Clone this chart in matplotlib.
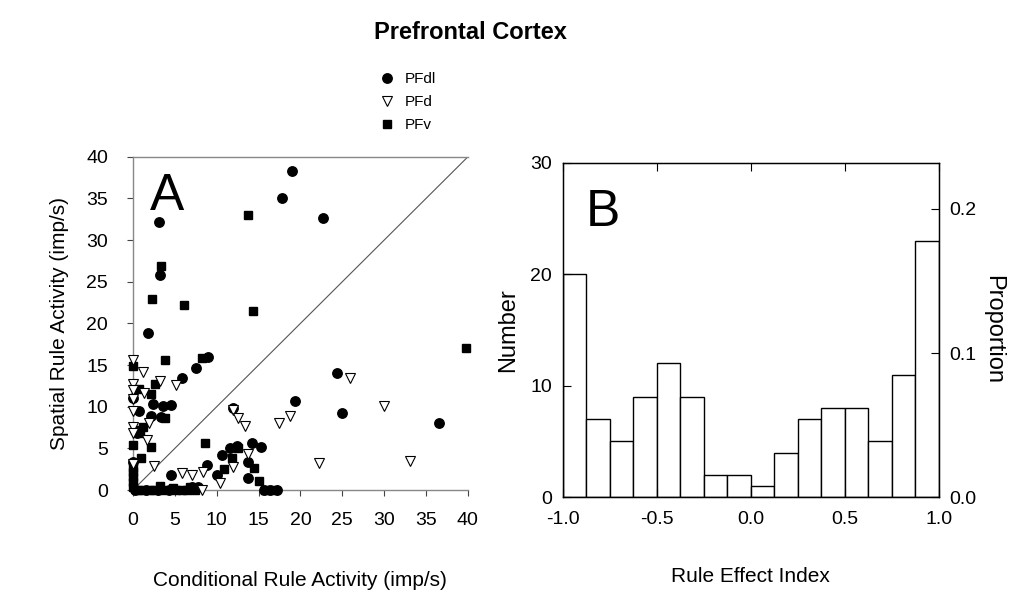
import numpy as np
import matplotlib
matplotlib.use("Agg")
import matplotlib.pyplot as plt

plt.rcParams['font.family'] = ['Liberation Sans', 'DejaVu Sans']
plt.rcParams['axes.unicode_minus'] = False

# ---------------- data ----------------
pfdl_x = [19.0, 17.8, 22.7, 3.1, 3.2, 1.8, 9.0, 7.5, 5.8, 0.0, 2.4, 3.6, 4.6, 0.7, 2.2, 3.3,
          11.9, 0.5, 11.6, 12.4, 14.2, 15.3, 10.6, 8.9, 10.0, 13.8, 13.8, 4.5, 24.4, 19.3,
          25.0, 36.6, 0.0, 7.8, 7.0, 0.3, 1.5, 3.0, 4.3, 15.6, 16.4, 17.2]
pfdl_y = [38.3, 35.0, 32.7, 32.2, 25.8, 18.8, 16.0, 14.6, 13.4, 11.0, 10.3, 10.1, 10.2, 9.5, 8.9, 8.8,
          9.8, 6.8, 5.1, 5.3, 5.7, 5.2, 4.2, 3.0, 1.8, 1.5, 3.4, 1.8, 14.1, 10.7,
          9.3, 8.1, 3.4, 0.4, 0.4, 0.0, 0.0, 0.0, 0.0, 0.0, 0.0, 0.0]

pfd_x = [0.0, 1.2, 3.2, 5.2, 0.0, 0.0, 0.0, 1.3, 0.0, 12.0, 12.6, 13.4, 17.4, 18.7, 0.0, 0.0,
         1.9, 1.7, 2.5, 0.0, 13.7, 11.9, 10.4, 5.9, 7.1, 8.4, 8.3, 25.9, 30.0, 22.2, 33.1]
pfd_y = [15.6, 14.2, 13.1, 12.6, 12.7, 12.0, 10.9, 11.6, 9.5, 9.6, 8.6, 7.7, 8.0, 8.9, 7.6, 6.8,
         8.0, 6.0, 2.9, 3.1, 4.3, 2.8, 0.9, 2.1, 1.8, 2.2, 0.0, 13.5, 10.1, 3.3, 3.5]

pfv_x = [13.7, 3.4, 2.3, 6.1, 14.3, 0.0, 3.8, 8.2, 2.6, 0.7, 2.1, 3.8, 1.2, 2.2, 0.0, 1.0,
         8.6, 12.5, 11.8, 10.9, 14.5, 15.1, 39.8, 0.0, 0.0, 0.0, 0.0, 0.0, 3.2, 4.8, 6.8,
         0.6, 1.0, 2.0, 2.5, 3.6, 5.2, 5.8, 6.4, 7.4, 15.8, 16.8, 0.3, 0.9]
pfv_y = [33.0, 26.9, 22.9, 22.2, 21.5, 14.9, 15.6, 15.9, 12.7, 12.1, 11.5, 8.7, 7.6, 5.2, 5.4, 3.8,
         5.6, 5.0, 3.9, 2.5, 2.6, 1.1, 17.1, 2.6, 2.2, 1.6, 1.0, 0.4, 0.5, 0.2, 0.4,
         0.0, 0.0, 0.0, 0.0, 0.0, 0.0, 0.0, 0.0, 0.0, 0.0, 0.0, 7.2, 6.8]

hist_edges = np.linspace(-1.0, 1.0, 17)
hist_counts = [20, 7, 5, 9, 12, 9, 2, 2, 1, 4, 7, 8, 8, 5, 11, 23]

scatter_ticks = [0, 5, 10, 15, 20, 25, 30, 35, 40]
hist_xticks = [-1.0, -0.5, 0.0, 0.5, 1.0]
hist_xticklabels = ['-1.0', '-0.5', '0.0', '0.5', '1.0']
count_ticks = [0, 10, 20, 30]
prop_ticks = [0.0, 0.1, 0.2]
prop_ticklabels = ['0.0', '0.1', '0.2']
prop_max = 0.232

# ---------------- figure ----------------
fig = plt.figure(figsize=(10.18, 5.94), dpi=100)
fig.text(0.462, 0.945, 'Prefrontal Cortex', ha='center', va='center',
         fontsize=17, fontweight='bold')

# Panel A
axA = fig.add_axes([0.1306, 0.175, 0.329, 0.561])
axA.plot([0, 40], [0, 40], color='#555555', lw=0.8, zorder=1)
axA.plot(pfdl_x, pfdl_y, 'o', color='black', ms=6.8, ls='none', label='PFdl', zorder=3,
         clip_on=False)
axA.plot(pfd_x, pfd_y, 'v', mfc='white', mec='black', mew=0.8, ms=7.5, ls='none',
         label='PFd', zorder=4, clip_on=False)
axA.plot(pfv_x, pfv_y, 's', color='black', ms=5.8, ls='none', label='PFv', zorder=3,
         clip_on=False)
axA.set_xlim(0, 40)
axA.set_ylim(0, 40)
axA.set_xticks(scatter_ticks)
axA.set_yticks(scatter_ticks)
axA.tick_params(direction='out', length=4, width=0.8, labelsize=14, pad=12,
                colors='#444444', labelcolor='black')
axA.tick_params(axis='y', pad=14)
axA.spines['right'].set_visible(False)
for s in ['left', 'bottom', 'top']:
    axA.spines[s].set_color('#888888')
    axA.spines[s].set_linewidth(1.0)
axA.set_xlabel('Conditional Rule Activity (imp/s)', fontsize=15, labelpad=30)
axA.set_ylabel('Spatial Rule Activity (imp/s)', fontsize=15, labelpad=12)
axA.text(0.05, 0.88, 'A', transform=axA.transAxes, fontsize=37, va='center', ha='left')
axA.legend(loc='center left', bbox_to_anchor=(0.365, 0.828), bbox_transform=fig.transFigure,
           frameon=False, fontsize=11, handletextpad=0.6, labelspacing=0.6,
           borderaxespad=0, handlelength=1.2)

# Panel B
axB = fig.add_axes([0.553, 0.163, 0.369, 0.563])
axB.bar(hist_edges[:-1], hist_counts, width=np.diff(hist_edges), align='edge',
        facecolor='white', edgecolor='black', linewidth=1.0)
axB.set_xlim(-1.0, 1.0)
axB.set_ylim(0, 30)
axB.set_xticks(hist_xticks)
axB.set_xticklabels(hist_xticklabels)
axB.set_yticks(count_ticks)
axB.tick_params(direction='in', length=6, width=0.8, labelsize=14, top=True, pad=8)
axB.tick_params(axis='x', pad=10)
for s in axB.spines.values():
    s.set_linewidth(1.0)
axB.set_xlabel('Rule Effect Index', fontsize=15, labelpad=28)
axB.set_ylabel('Number', fontsize=17, labelpad=8)
axB.text(0.06, 0.85, 'B', transform=axB.transAxes, fontsize=37, va='center', ha='left')

axR = axB.twinx()
axR.set_ylim(0, prop_max)
axR.set_yticks(prop_ticks)
axR.set_yticklabels(prop_ticklabels)
axR.tick_params(direction='in', length=6, width=0.8, labelsize=14, pad=8)
axR.set_ylabel('Proportion', fontsize=17, rotation=270, labelpad=20)

fig.savefig('out.png', dpi=100)
